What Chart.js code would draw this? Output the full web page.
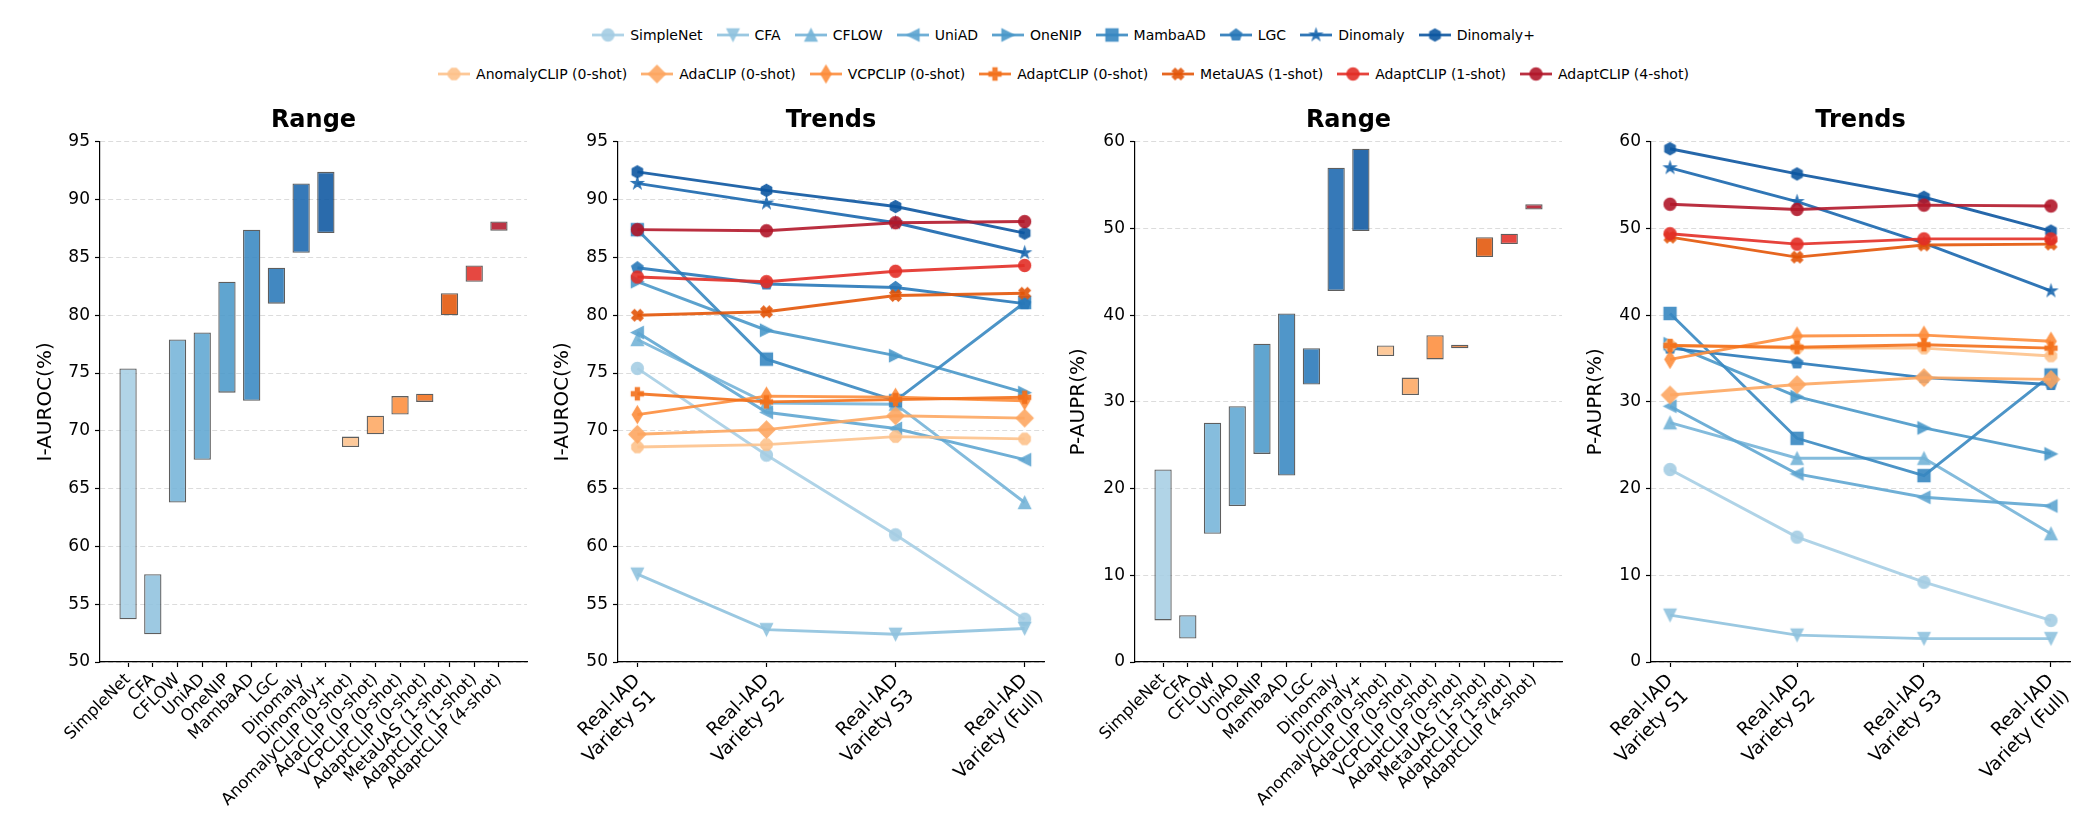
<!DOCTYPE html>
<html>
<head>
<meta charset="utf-8">
<script src="https://cdn.jsdelivr.net/npm/chart.js@4.4.1/dist/chart.umd.min.js"></script>
<style>
  body { margin: 0; background: #fff; width: 2100px; height: 818px; overflow: hidden; position: relative; font-family: 'DejaVu Sans'; }
  canvas.panel { position: absolute; top: 100px; }
  .legend { position: absolute; left: 13px; width: 2100px; display: flex; justify-content: center; font-size: 14px; color: #000; }
  .item { display: flex; align-items: center; margin: 0 6.5px; white-space: nowrap; }
  .item canvas { margin-right: 5px; }
</style>
</head>
<body>
<div class="legend" id="leg1" style="top:24px"></div>
<div class="legend" id="leg2" style="top:63px"></div>
<canvas class="panel" id="c1" width="540" height="718" style="left:0px"></canvas>
<canvas class="panel" id="c2" width="530" height="718" style="left:530px"></canvas>
<canvas class="panel" id="c3" width="525" height="718" style="left:1050px"></canvas>
<canvas class="panel" id="c4" width="535" height="718" style="left:1565px"></canvas>
<script>
// methods, in legend order
const methods = ['SimpleNet', 'CFA', 'CFLOW', 'UniAD', 'OneNIP', 'MambaAD', 'LGC', 'Dinomaly', 'Dinomaly+',
  'AnomalyCLIP (0-shot)', 'AdaCLIP (0-shot)', 'VCPCLIP (0-shot)', 'AdaptCLIP (0-shot)',
  'MetaUAS (1-shot)', 'AdaptCLIP (1-shot)', 'AdaptCLIP (4-shot)'];
const settings = [['Real-IAD', 'Variety S1'], ['Real-IAD', 'Variety S2'], ['Real-IAD', 'Variety S3'], ['Real-IAD', 'Variety (Full)']];

// I-AUROC per setting (same order as methods)
const aurocS1   = [75.4, 57.6, 77.9, 78.5, 82.9, 87.4, 84.1, 91.4, 92.4, 68.6, 69.7, 71.4, 73.2, 80.0, 83.3, 87.4];
const aurocS2   = [67.9, 52.8, 72.4, 71.6, 78.7, 76.2, 82.7, 89.7, 90.8, 68.8, 70.1, 73.0, 72.5, 80.3, 82.9, 87.3];
const aurocS3   = [61.0, 52.4, 72.3, 70.2, 76.5, 72.6, 82.4, 88.0, 89.4, 69.5, 71.3, 72.9, 72.7, 81.7, 83.8, 88.0];
const aurocFull = [53.7, 52.9, 63.8, 67.5, 73.3, 81.1, 81.0, 85.4, 87.1, 69.3, 71.1, 72.6, 72.9, 81.9, 84.3, 88.1];

// P-AUPR per setting
const auprS1   = [22.2, 5.4, 27.6, 29.5, 36.7, 40.2, 36.2, 57.0, 59.2, 36.5, 30.8, 34.9, 36.5, 49.0, 49.4, 52.8];
const auprS2   = [14.4, 3.1, 23.5, 21.7, 30.6, 25.8, 34.5, 53.1, 56.3, 36.2, 32.0, 37.6, 36.3, 46.7, 48.2, 52.2];
const auprS3   = [9.2, 2.7, 23.5, 19.0, 27.0, 21.5, 32.8, 48.3, 53.6, 36.2, 32.8, 37.7, 36.6, 48.1, 48.8, 52.7];
const auprFull = [4.8, 2.7, 14.8, 18.0, 24.0, 33.1, 32.0, 42.8, 49.7, 35.3, 32.6, 37.0, 36.2, 48.2, 48.8, 52.6];

const colors = ['#a6cee4', '#8fc2de', '#75b4d8', '#5fa6d1', '#4a98c9', '#3888c1', '#2878b8', '#1a67ae', '#0d57a1',
  '#fdc28c', '#fda762', '#fd8d3c', '#f3701b', '#e35508', '#e32f27', '#b2182b'];
const markers = ['o', 'v', '^', '<', '>', 's', 'p', '*', 'h', '8', 'D', 'd', 'P', 'X', 'o', 'o'];

Chart.defaults.font.family = 'DejaVu Sans';
Chart.defaults.color = '#000';

function rgba(hex, a) {
  const n = parseInt(hex.slice(1), 16);
  return `rgba(${n >> 16},${(n >> 8) & 255},${n & 255},${a})`;
}

// matplotlib-like marker shapes, drawn into small canvases used as pointStyle
function shapePath(ctx, shape, s) {
  const r = s / 2;
  const poly = pts => { pts.forEach((p, k) => k ? ctx.lineTo(p[0], p[1]) : ctx.moveTo(p[0], p[1])); ctx.closePath(); };
  const reg = (n, rad, a0) => {
    const p = [];
    for (let k = 0; k < n; k++) { const a = a0 + k * 2 * Math.PI / n; p.push([rad * Math.cos(a), rad * Math.sin(a)]); }
    poly(p);
  };
  ctx.beginPath();
  switch (shape) {
    case 'o': ctx.arc(0, 0, r, 0, 2 * Math.PI); break;
    case '8': reg(8, r, Math.PI / 8); break;
    case '^': poly([[0, -r], [-r, r], [r, r]]); break;
    case 'v': poly([[0, r], [-r, -r], [r, -r]]); break;
    case '<': poly([[-r, 0], [r, -r], [r, r]]); break;
    case '>': poly([[r, 0], [-r, -r], [-r, r]]); break;
    case 's': poly([[-r, -r], [r, -r], [r, r], [-r, r]]); break;
    case 'p': reg(5, r, -Math.PI / 2); break;
    case 'h': reg(6, r, -Math.PI / 2); break;
    case '*': {
      const p = [];
      for (let k = 0; k < 10; k++) {
        const a = -Math.PI / 2 + k * Math.PI / 5;
        const rr = k % 2 ? r * 0.381966 : r;
        p.push([rr * Math.cos(a), rr * Math.sin(a)]);
      }
      poly(p); break;
    }
    case 'D': { const d = r * Math.SQRT2; poly([[0, -d], [d, 0], [0, d], [-d, 0]]); break; }
    case 'd': { const d = r * Math.SQRT2; poly([[0, -d], [0.6 * d, 0], [0, d], [-0.6 * d, 0]]); break; }
    case 'P':
    case 'X': {
      const u = s / 6;
      const rot = shape === 'X' ? Math.PI / 4 : 0;
      const base = [[-1, -3], [1, -3], [1, -1], [3, -1], [3, 1], [1, 1], [1, 3], [-1, 3], [-1, 1], [-3, 1], [-3, -1], [-1, -1]];
      poly(base.map(([a, b]) => [u * (a * Math.cos(rot) - b * Math.sin(rot)), u * (a * Math.sin(rot) + b * Math.cos(rot))]));
      break;
    }
  }
}

function markerCanvas(shape, color, s, alpha) {
  const W = Math.ceil(s * 1.7) + 4;
  const tmp = document.createElement('canvas');
  tmp.width = W; tmp.height = W;
  const t = tmp.getContext('2d');
  t.translate(W / 2, W / 2);
  shapePath(t, shape, s);
  t.fillStyle = color; t.strokeStyle = color; t.lineWidth = 1.3; t.lineJoin = 'miter';
  t.fill(); t.stroke();
  const out = document.createElement('canvas');
  out.width = W; out.height = W;
  const o = out.getContext('2d');
  o.globalAlpha = alpha;
  o.drawImage(tmp, 0, 0);
  return out;
}

const MS = 12;
const pointImgs = methods.map((m, i) => markerCanvas(markers[i], colors[i], MS, 0.9));

// legend (two rows like the reference)
methods.forEach((m, i) => {
  const row = document.getElementById(i < 9 ? 'leg1' : 'leg2');
  const item = document.createElement('div');
  item.className = 'item';
  const c = document.createElement('canvas');
  c.width = 34; c.height = 22;
  const ctx = c.getContext('2d');
  ctx.strokeStyle = rgba(colors[i], 0.9);
  ctx.lineWidth = 2.8;
  ctx.beginPath(); ctx.moveTo(1, 11); ctx.lineTo(33, 11); ctx.stroke();
  const img = pointImgs[i];
  ctx.drawImage(img, 17 - img.width / 2, 11 - img.height / 2);
  item.appendChild(c);
  const span = document.createElement('span');
  span.textContent = m;
  item.appendChild(span);
  row.appendChild(item);
});

const baseY = (min, max, step, label, yWidth, titlePad) => ({
  min: min, max: max,
  ticks: { stepSize: step, font: { size: 17 }, padding: 5 },
  grid: { color: '#dcdcdc', lineWidth: 1, tickColor: '#000', tickLength: 5, tickWidth: 1.2, tickBorderDash: [] },
  border: { color: '#000', width: 1.2, dash: [5, 3] },
  title: { display: true, text: label, font: { size: 20 }, padding: { top: titlePad, bottom: 0 } },
  afterFit: s => { s.width = yWidth; }
});

function rangeChart(id, series, yMin, yMax, step, label, yWidth, titlePad, padRight) {
  const rangeData = methods.map((m, i) => {
    const vals = series.map(arr => arr[i]);
    return { x: i, y: [Math.min(...vals), Math.max(...vals)] };
  });
  new Chart(document.getElementById(id), {
    type: 'bar',
    data: {
      datasets: [{
        data: rangeData,
        backgroundColor: colors.map(c => rgba(c, 0.88)),
        borderColor: 'rgba(40,40,40,0.75)',
        borderWidth: 1.3,
        borderSkipped: false,
        barPercentage: 0.7,
        categoryPercentage: 1.0
      }]
    },
    options: {
      responsive: false, animation: false, events: [], devicePixelRatio: 1,
      layout: { padding: { left: 0, right: padRight, top: 0, bottom: 0 } },
      plugins: {
        legend: { display: false },
        tooltip: { enabled: false },
        title: { display: true, text: 'Range', fullSize: false, font: { size: 24, weight: 'bold' }, padding: { top: 6, bottom: 7 } }
      },
      scales: {
        x: {
          type: 'linear', min: -1.135, max: 16.135, offset: false,
          grid: { drawOnChartArea: false, tickColor: '#000', tickLength: 5, tickWidth: 1.2, offset: false },
          border: { color: '#000', width: 1.2 },
          afterBuildTicks: s => { s.ticks = methods.map((m, i) => ({ value: i })); },
          ticks: { autoSkip: false, maxRotation: 45, minRotation: 45, font: { size: 16.5 }, padding: 3, callback: v => methods[v] },
          afterFit: s => { s.height = 156; }
        },
        y: baseY(yMin, yMax, step, label, yWidth, titlePad)
      }
    }
  });
}

function trendChart(id, series, yMin, yMax, step, label, yWidth, titlePad, padRight) {
  const datasets = methods.map((m, i) => ({
    label: m,
    data: series.map((arr, j) => ({ x: j, y: arr[i] })),
    borderColor: rgba(colors[i], 0.9),
    backgroundColor: rgba(colors[i], 0.9),
    borderWidth: 2.9,
    pointStyle: pointImgs[i],
    pointRadius: 6,
    tension: 0,
    fill: false,
    order: -i
  }));
  new Chart(document.getElementById(id), {
    type: 'line',
    data: { datasets },
    options: {
      responsive: false, animation: false, events: [], devicePixelRatio: 1,
      layout: { padding: { left: 0, right: padRight, top: 0, bottom: 0 } },
      plugins: {
        legend: { display: false },
        tooltip: { enabled: false },
        title: { display: true, text: 'Trends', fullSize: false, font: { size: 24, weight: 'bold' }, padding: { top: 6, bottom: 7 } }
      },
      scales: {
        x: {
          type: 'linear', min: -0.15, max: 3.15,
          grid: { drawOnChartArea: false, tickColor: '#000', tickLength: 5, tickWidth: 1.2 },
          border: { color: '#000', width: 1.2 },
          afterBuildTicks: s => { s.ticks = settings.map((c, i) => ({ value: i })); },
          ticks: { autoSkip: false, maxRotation: 45, minRotation: 45, font: { size: 18.5 }, padding: 3, callback: v => settings[v] },
          afterFit: s => { s.height = 156; }
        },
        y: baseY(yMin, yMax, step, label, yWidth, titlePad)
      }
    }
  });
}

const aurocSeries = [aurocS1, aurocS2, aurocS3, aurocFull];
const auprSeries = [auprS1, auprS2, auprS3, auprFull];

rangeChart('c1', aurocSeries, 50, 95, 5, 'I-AUROC(%)', 100, 34, 13);
trendChart('c2', aurocSeries, 50, 95, 5, 'I-AUROC(%)', 88, 21, 16);
rangeChart('c3', auprSeries, 0, 60, 10, 'P-AUPR(%)', 85, 17, 13);
trendChart('c4', auprSeries, 0, 60, 10, 'P-AUPR(%)', 86, 19, 30);
</script>
</body>
</html>
